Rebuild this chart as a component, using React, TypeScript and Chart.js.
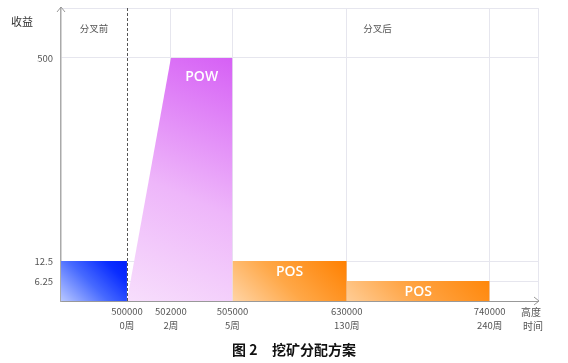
import React, { useEffect, useRef } from 'react';
import { Chart, registerables } from 'chart.js';

Chart.register(...registerables);

// ---- data ----
const heights = [500000, 502000, 505000, 630000, 740000];
const weeks = ['0周', '2周', '5周', '130周', '240周'];
// visual slot of each height on the (non-proportional) x axis
const heightSlots = [1.5, 2.5, 3.9, 6.5, 9.75];
const xSlotMax = 10.85;

const rewardTicks = [6.25, 12.5, 500];
// visual slot of each reward on the (non-proportional) y axis
const rewardSlots = [1, 2, 12.15];
const ySlotMax = 14.65;

// phases
const preForkHeights: (number | null)[] = [null, 500000];
const preForkRewards = [12.5, 12.5];
const powHeights = [500000, 502000, 505000];
const powRewards = [0, 500, 500];
const pos1Heights = [505000, 630000];
const pos1Rewards = [12.5, 12.5];
const pos2Heights = [630000, 740000];
const pos2Rewards = [6.25, 6.25];

const phaseLabels = ['分叉前', '分叉后'];
const phaseLabelSlots = [0.75, 7.2];

const xSlot = (h: number | null) => (h === null ? 0 : heightSlots[heights.indexOf(h)]);
const ySlot = (v: number) => (v === 0 ? 0 : rewardSlots[rewardTicks.indexOf(v)]);

const toPoints = (hs: (number | null)[], rs: number[]) =>
  hs.map((h, i) => ({ x: xSlot(h), y: ySlot(rs[i]) }));

const FONT = '"Noto Sans CJK SC", "Noto Sans", sans-serif';

function makeGradient(
  stops: [number, string][],
  hs: (number | null)[],
  rs: number[],
  fallback: string,
  diagonal: boolean
) {
  return (ctx: any) => {
    const chart = ctx.chart;
    if (!chart.chartArea) return fallback;
    const xs = chart.scales.x;
    const ys = chart.scales.y;
    const x0 = xs.getPixelForValue(xSlot(hs[0]));
    const x1 = xs.getPixelForValue(xSlot(hs[hs.length - 1]));
    const y0 = ys.getPixelForValue(0);
    const y1 = ys.getPixelForValue(ySlot(Math.max(...rs)));
    let g;
    if (diagonal) {
      const d = (x1 - x0 + (y0 - y1)) / 2;
      g = chart.ctx.createLinearGradient(x0, y0, x0 + d, y0 - d);
    } else {
      g = chart.ctx.createLinearGradient(x0, y0, x1, y1);
    }
    stops.forEach(([o, c]) => g.addColorStop(o, c));
    return g;
  };
}

const decorPlugin = {
  id: 'decor',
  afterDatasetsDraw(chart: any) {
    const { ctx, scales } = chart;
    const xs = scales.x;
    const ys = scales.y;
    ctx.save();
    ctx.fillStyle = '#ffffff';
    ctx.textAlign = 'center';
    ctx.textBaseline = 'middle';
    ctx.font = `600 14px "Open Sans", ${FONT}`;
    const cx = (a: number, b: number) => (xs.getPixelForValue(a) + xs.getPixelForValue(b)) / 2;
    ctx.fillText('POW', cx(xSlot(powHeights[1]), xSlot(powHeights[2])), ys.getPixelForValue(ySlot(500)) + 19);
    ctx.fillText('POS', cx(xSlot(pos1Heights[0]), xSlot(pos1Heights[1])), ys.getPixelForValue(ySlot(12.5)) + 11);
    ctx.fillText('POS', cx(xSlot(pos2Heights[0]), xSlot(pos2Heights[1])), ys.getPixelForValue(ySlot(6.25)) + 11);
    ctx.restore();
  },
  afterDraw(chart: any) {
    const { ctx, chartArea: a, scales } = chart;
    const xs = scales.x;
    ctx.save();
    // fork dashed line
    const fx = Math.round(xs.getPixelForValue(heightSlots[0])) + 0.5;
    ctx.strokeStyle = '#555';
    ctx.lineWidth = 1;
    ctx.setLineDash([3, 2]);
    ctx.beginPath();
    ctx.moveTo(fx, a.top);
    ctx.lineTo(fx, a.bottom);
    ctx.stroke();
    ctx.setLineDash([]);
    // arrows
    ctx.strokeStyle = '#999';
    ctx.lineWidth = 1;
    ctx.beginPath();
    ctx.moveTo(a.left - 4, a.top + 4);
    ctx.lineTo(a.left, a.top - 1);
    ctx.lineTo(a.left + 4, a.top + 4);
    ctx.stroke();
    ctx.beginPath();
    ctx.moveTo(a.right - 4, a.bottom - 4);
    ctx.lineTo(a.right + 1, a.bottom);
    ctx.lineTo(a.right - 4, a.bottom + 4);
    ctx.stroke();
    // axis titles
    ctx.textAlign = 'center';
    ctx.textBaseline = 'middle';
    ctx.fillStyle = '#333';
    ctx.font = `11px ${FONT}`;
    ctx.fillText('收益', 22, 22);
    ctx.fillStyle = '#555';
    ctx.font = `10px ${FONT}`;
    ctx.fillText('高度', a.right - 7, a.bottom + 11);
    ctx.fillText('时间', a.right - 5, a.bottom + 25);
    // phase labels
    ctx.fillStyle = '#555';
    ctx.font = `9.5px ${FONT}`;
    phaseLabels.forEach((t, i) => {
      ctx.fillText(t, xs.getPixelForValue(phaseLabelSlots[i]), a.top + 20);
    });
    // caption
    ctx.fillStyle = '#111';
    ctx.font = `bold 14px ${FONT}`;
    ctx.textAlign = 'left';
    ctx.fillText('图 2', 232, 350);
    ctx.fillText('挖矿分配方案', 272, 350);
    ctx.restore();
  },
};

export default function App() {
  const ref = useRef<HTMLCanvasElement | null>(null);
  useEffect(() => {
    if (!ref.current) return;
    const base = { borderWidth: 0, pointRadius: 0, tension: 0, fill: 'origin' as const };
    const chart = new Chart(ref.current, {
      type: 'line',
      data: {
        datasets: [
          {
            ...base,
            label: 'pre',
            data: toPoints(preForkHeights, preForkRewards),
            backgroundColor: makeGradient(
              [[0, 'rgba(185,200,255,1)'], [0.45, 'rgba(70,105,255,1)'], [0.8, 'rgba(10,45,255,1)'], [1, 'rgba(0,30,250,1)']],
              preForkHeights, preForkRewards, '#2040ff', true),
          },
          {
            ...base,
            label: 'POW',
            data: toPoints(powHeights, powRewards),
            backgroundColor: makeGradient(
              [[0, 'rgba(247,222,252,1)'], [0.45, 'rgba(238,182,250,1)'], [1, 'rgba(214,96,245,1)']],
              powHeights, powRewards, '#e090f5', false),
          },
          {
            ...base,
            label: 'POS1',
            data: toPoints(pos1Heights, pos1Rewards),
            backgroundColor: makeGradient(
              [[0, 'rgba(255,212,165,1)'], [0.45, 'rgba(255,168,72,1)'], [1, 'rgba(255,128,0,1)']],
              pos1Heights, pos1Rewards, '#ff9a30', true),
          },
          {
            ...base,
            label: 'POS2',
            data: toPoints(pos2Heights, pos2Rewards),
            backgroundColor: makeGradient(
              [[0, 'rgba(255,205,150,1)'], [0.45, 'rgba(255,165,70,1)'], [1, 'rgba(255,135,10,1)']],
              pos2Heights, pos2Rewards, '#ff9a30', true),
          },
        ],
      },
      options: {
        animation: false,
        responsive: false,
        maintainAspectRatio: false,
        layout: { padding: { left: 0, right: 30, top: 8, bottom: 0 } },
        plugins: { legend: { display: false }, tooltip: { enabled: false } },
        scales: {
          x: {
            type: 'linear',
            min: 0,
            max: xSlotMax,
            afterBuildTicks: (s: any) => {
              s.ticks = [...heightSlots, xSlotMax].map((v) => ({ value: v }));
            },
            afterFit: (s: any) => {
              s.height = 62;
              s.paddingLeft = 0;
              s.paddingRight = 0;
            },
            ticks: {
              autoSkip: false,
              maxRotation: 0,
              padding: 4,
              color: '#555',
              font: { family: FONT, size: 9.5, lineHeight: 1.45 },
              callback: (v: any) => {
                const i = heightSlots.indexOf(Number(v));
                return i < 0 ? '' : [String(heights[i]), weeks[i]];
              },
            },
            grid: {
              drawTicks: false,
              lineWidth: 1,
              color: (c: any) => (c.tick && c.tick.value === heightSlots[0] ? 'rgba(0,0,0,0)' : '#e6e6ee'),
            },
            border: { color: '#999', width: 1 },
          },
          y: {
            type: 'linear',
            min: 0,
            max: ySlotMax,
            afterBuildTicks: (s: any) => {
              s.ticks = [...rewardSlots, ySlotMax].map((v) => ({ value: v }));
            },
            afterFit: (s: any) => {
              s.width = 61;
              s.paddingTop = 0;
              s.paddingBottom = 0;
            },
            ticks: {
              autoSkip: false,
              padding: 8,
              color: '#555',
              font: { family: FONT, size: 9.5 },
              callback: (v: any) => {
                const i = rewardSlots.indexOf(Number(v));
                return i < 0 ? '' : String(rewardTicks[i]);
              },
            },
            grid: { drawTicks: false, lineWidth: 1, color: '#e6e6ee' },
            border: { color: '#aaa', width: 1.5 },
          },
        },
      },
      plugins: [decorPlugin],
    });
    return () => chart.destroy();
  }, []);
  return (
    <div style={{ position: 'absolute', left: 0, top: 0, width: 568, height: 363, background: '#fff' }}>
      <canvas ref={ref} width={568} height={363} style={{ width: 568, height: 363, display: 'block' }} />
    </div>
  );
}
